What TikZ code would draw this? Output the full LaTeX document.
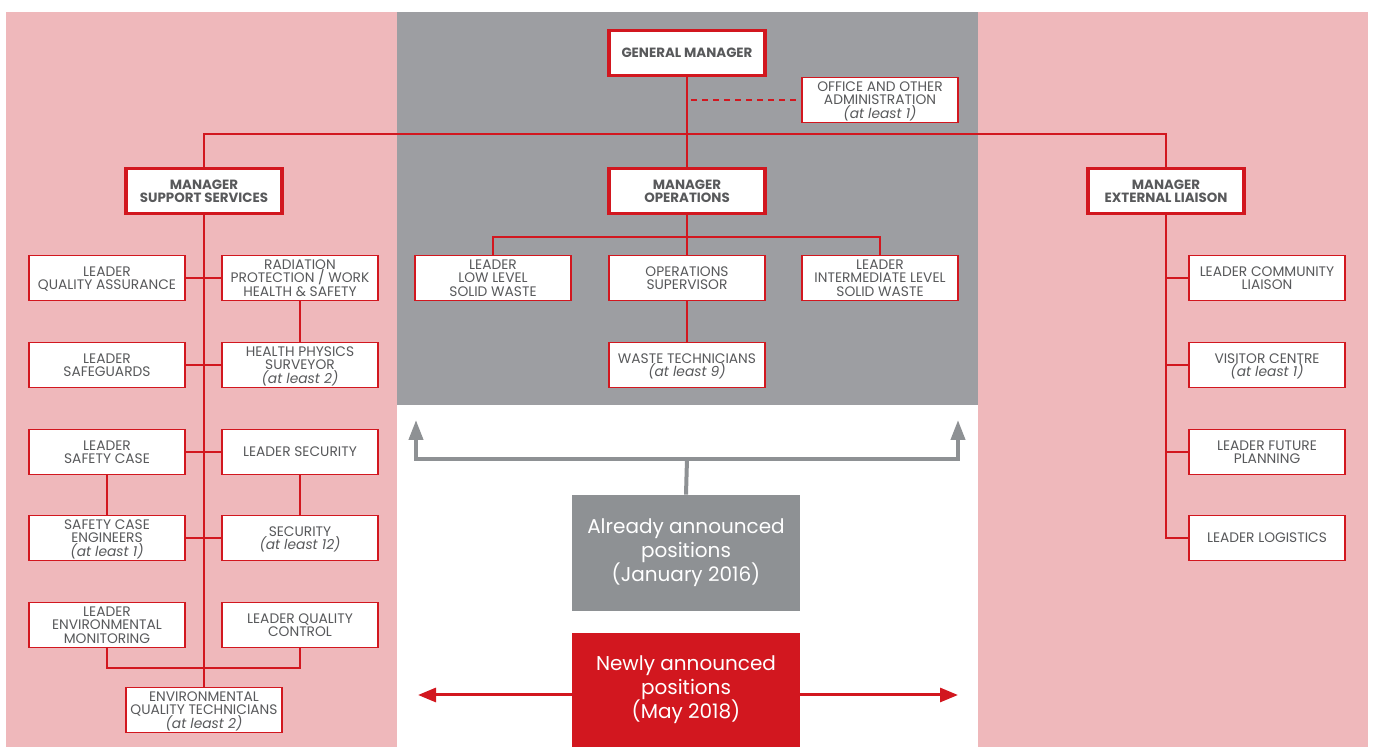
\documentclass[tikz,border=0pt]{standalone}
\usepackage{fontspec}
\setmainfont{Poppins}
\usetikzlibrary{arrows.meta}
\definecolor{rosebg}{HTML}{EFB8BB}
\definecolor{greybg}{HTML}{9D9EA2}
\definecolor{orgred}{HTML}{D2171F}
\definecolor{legendgrey}{HTML}{8E9194}
\definecolor{txtgrey}{HTML}{58595B}
\newcommand{\rolefont}{\fontsize{6.9}{6.7}\selectfont\lineskiplimit=-10pt\relax}
\newcommand{\headfont}{\fontsize{6.7}{6.5}\selectfont\bfseries\lineskiplimit=-10pt\relax}
\tikzset{
  role/.style={draw=orgred, line width=0.75pt, fill=white, minimum width=78pt, minimum height=22.5pt,
    align=center, text=txtgrey, inner sep=1pt, text depth=-1.5pt, font=\rolefont},
  headrole/.style={role, line width=1.6pt, font=\headfont},
  link/.style={draw=orgred, line width=0.75pt},
  legendbox/.style={minimum width=114pt, align=center, text=white, inner sep=0pt,
    font=\fontsize{10}{12}\selectfont},
}
\begin{document}
\begin{tikzpicture}[x=0.5pt, y=-0.5pt, line join=miter]
  \useasboundingbox (0,0) rectangle (1373,747);
  % background bands
  \fill[rosebg] (6,12) rectangle (397,747);
  \fill[greybg] (397,12) rectangle (978,405);
  \fill[rosebg] (978,12) rectangle (1368,747);

  % top level
  \node[headrole] (gm) at (687,53) {GENERAL MANAGER};
  \node[role] (office) at (880,100) {OFFICE AND OTHER\\ADMINISTRATION\\\textit{(at least 1)}};
  \node[headrole] (mss) at (204,191) {MANAGER\\SUPPORT SERVICES};
  \node[headrole] (mops) at (687,191) {MANAGER\\OPERATIONS};
  \node[headrole] (mel) at (1166,191) {MANAGER\\EXTERNAL LIAISON};
  \coordinate (admjoin) at (687,100);
  \coordinate (topbar) at (687,134);

  % support services
  \node[role] (lqa) at (107,278) {LEADER\\QUALITY ASSURANCE};
  \node[role] (rpw) at (300,278) {RADIATION\\PROTECTION / WORK\\HEALTH \& SAFETY};
  \node[role] (lsg) at (107,365) {LEADER\\SAFEGUARDS};
  \node[role] (hps) at (300,365) {HEALTH PHYSICS\\SURVEYOR\\\textit{(at least 2)}};
  \node[role] (lsc) at (107,452) {LEADER\\SAFETY CASE};
  \node[role] (lsec) at (300,452) {LEADER SECURITY};
  \node[role] (sce) at (107,538) {SAFETY CASE\\ENGINEERS\\\textit{(at least 1)}};
  \node[role] (sec) at (300,538) {SECURITY\\\textit{(at least 12)}};
  \node[role] (lem) at (107,625) {LEADER\\ENVIRONMENTAL\\MONITORING};
  \node[role] (lqc) at (300,625) {LEADER QUALITY\\CONTROL};
  \node[role] (eqt) at (204,710) {ENVIRONMENTAL\\QUALITY TECHNICIANS\\\textit{(at least 2)}};
  \coordinate (envjoin) at (204,668);

  % operations
  \node[role] (llw) at (493,278) {LEADER\\LOW LEVEL\\SOLID WASTE};
  \node[role] (opsup) at (687,278) {OPERATIONS\\SUPERVISOR};
  \node[role] (ilw) at (880,278) {LEADER\\INTERMEDIATE LEVEL\\SOLID WASTE};
  \node[role] (wtech) at (687,365) {WASTE TECHNICIANS\\\textit{(at least 9)}};
  \coordinate (opsbar) at (687,237);

  % external liaison
  \node[role] (lcl) at (1267,278) {LEADER COMMUNITY\\LIAISON};
  \node[role] (vc) at (1267,365) {VISITOR CENTRE\\\textit{(at least 1)}};
  \node[role] (lfp) at (1267,452) {LEADER FUTURE\\PLANNING};
  \node[role] (llog) at (1267,538) {LEADER LOGISTICS};

  % connectors
  \draw[link] (gm) -- (mops);
  \draw[link, dashed, dash pattern=on 3pt off 2.5pt] ([xshift=2pt]admjoin) -- (office.west);
  \draw[link] (mss.north) |- (topbar) -| (mel.north);
  \draw[link] (mss) -- (eqt);
  \draw[link] (lqa) -- (rpw);
  \draw[link] (lsg) -- (hps);
  \draw[link] (lsc) -- (lsec);
  \draw[link] (sce) -- (sec);
  \draw[link] (rpw) -- (hps);
  \draw[link] (lsc) -- (sce);
  \draw[link] (lsec) -- (sec);
  \draw[link] (lem.south) |- (envjoin) -| (lqc.south);
  \draw[link] (mops) -- (opsup);
  \draw[link] (llw.north) |- (opsbar) -| (ilw.north);
  \draw[link] (opsup) -- (wtech);
  \foreach \r in {lcl,vc,lfp,llog}
    \draw[link] (mel.south) |- (\r.west);

  % legend
  \node[legendbox, fill=legendgrey, minimum height=58pt] (already) at (686,553)
    {Already announced\\positions\\(January 2016)};
  \node[legendbox, fill=orgred, minimum height=57pt] (newly) at (686,690)
    {Newly announced\\positions\\(May 2018)};
  \coordinate (graybar) at (687,459);
  \coordinate (ltip) at (416,420);
  \coordinate (rtip) at (958,420);
  \coordinate (lred) at (418,695);
  \coordinate (rred) at (958,695);
  \draw[legendgrey, line width=2pt] (already.north) -- (graybar);
  \draw[legendgrey, line width=2pt, -{Triangle[length=10pt,width=7pt]}] (graybar) -| (ltip);
  \draw[legendgrey, line width=2pt, -{Triangle[length=10pt,width=7pt]}] (graybar) -| (rtip);
  \draw[orgred, line width=1.5pt, -{Triangle[length=9pt,width=7pt]}] (newly.west |- lred) -- (lred);
  \draw[orgred, line width=1.5pt, -{Triangle[length=9pt,width=7pt]}] (newly.east |- rred) -- (rred);
\end{tikzpicture}
\end{document}
